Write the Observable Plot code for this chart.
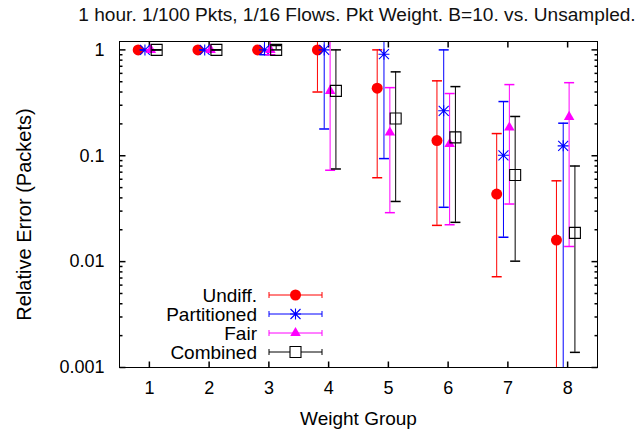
<!DOCTYPE html>
<html><head><meta charset="utf-8">
<script src="https://cdn.jsdelivr.net/npm/d3@7"></script>
<script src="https://cdn.jsdelivr.net/npm/@observablehq/plot@0.6"></script>
<style>body{margin:0;background:#fff} svg{display:block}</style>
</head><body><div id="chart"></div>
<script>
// ---- data ----
const groups = [1, 2, 3, 4, 5, 6, 7, 8];
const seriesNames = ["Undiff.", "Partitioned", "Fair", "Combined"];

const undiffVal = [1, 1, 1, 1, 0.435, 0.139, 0.0435, 0.016];
const undiffLo  = [1, 1, 1, 0.40, 0.062, 0.022, 0.0072, 0.0001];
const undiffHi  = [1, 1, 1, 1.5, 1.0, 0.51, 0.162, 0.058];

const partVal = [1, 1, 1, 1, 0.91, 0.266, 0.101, 0.124];
const partLo  = [1, 1, 0.9, 0.179, 0.094, 0.0326, 0.017, 0.0001];
const partHi  = [1, 1, 1.5, 1.5, 1.5, 1.0, 0.325, 0.203];

const fairVal = [1, 1, 1, 0.41, 0.166, 0.129, 0.185, 0.233];
const fairLo  = [1, 1, 0.9, 0.073, 0.029, 0.0223, 0.035, 0.0139];
const fairHi  = [1, 1, 1.5, 1.5, 0.44, 0.387, 0.47, 0.49];

const combVal = [1, 1, 1, 0.41, 0.225, 0.149, 0.0658, 0.0187];
const combLo  = [1, 1, 1, 0.075, 0.037, 0.0235, 0.0101, 0.00139];
const combHi  = [1, 1, 1.1, 1.0, 0.62, 0.45, 0.235, 0.080];

const yTickValues = [0.001, 0.01, 0.1, 1];
const yTickLabels = ["0.001", "0.01", "0.1", "1"];
const xTickValues = [1, 2, 3, 4, 5, 6, 7, 8];
const titleText = "1 hour. 1/100 Pkts, 1/16 Flows. Pkt Weight. B=10. vs. Unsampled.";
const xLabel = "Weight Group";
const yLabel = "Relative Error (Packets)";

// ---- styles ----
const FONT = "'Liberation Sans', Arial, Helvetica, sans-serif";
const FS = 18;
const hcap = {draw(ctx) { ctx.moveTo(-5, 0); ctx.lineTo(5, 0); }};
const asterisk = {draw(ctx) {
  const r = 5.5, d = 5;
  ctx.moveTo(-r, 0); ctx.lineTo(r, 0); ctx.moveTo(0, -r); ctx.lineTo(0, r);
  ctx.moveTo(-d, -d); ctx.lineTo(d, d); ctx.moveTo(-d, d); ctx.lineTo(d, -d);
}};
const tickSym = (dx, dy) => ({draw(ctx) { ctx.moveTo(0, 0); ctx.lineTo(dx, dy); }});

const series = [
  {name: seriesNames[0], val: undiffVal, lo: undiffLo, hi: undiffHi, color: "#ff0000", off: -0.187, symbol: "circle", r: 5.5, filled: true},
  {name: seriesNames[1], val: partVal, lo: partLo, hi: partHi, color: "#0000ff", off: -0.074, symbol: asterisk, r: 5, filled: false},
  {name: seriesNames[2], val: fairVal, lo: fairLo, hi: fairHi, color: "#ff00ff", off: 0.025, symbol: "triangle", r: 3.9, filled: true},
  {name: seriesNames[3], val: combVal, lo: combLo, hi: combHi, color: "#000000", off: 0.122, symbol: "square", r: 6.2, filled: false}
];

const rows = s => groups.map((g, i) => ({x: g + s.off, v: s.val[i], lo: s.lo[i], hi: s.hi[i]}));

const yMinor = [];
for (const base of [0.001, 0.01, 0.1]) for (let k = 2; k <= 9; k++) yMinor.push(+(base * k).toPrecision(3));

const marks = [];
// ticks (inward, mirrored)
marks.push(Plot.dot(yTickValues, {y: d => d, frameAnchor: "left", symbol: tickSym(6, 0), stroke: "black", fill: "none"}));
marks.push(Plot.dot(yTickValues, {y: d => d, frameAnchor: "right", symbol: tickSym(-6, 0), stroke: "black", fill: "none"}));
marks.push(Plot.dot(yMinor, {y: d => d, frameAnchor: "left", symbol: tickSym(3, 0), stroke: "black", fill: "none"}));
marks.push(Plot.dot(yMinor, {y: d => d, frameAnchor: "right", symbol: tickSym(-3, 0), stroke: "black", fill: "none"}));
marks.push(Plot.dot(xTickValues, {x: d => d, frameAnchor: "bottom", symbol: tickSym(0, -6), stroke: "black", fill: "none"}));
marks.push(Plot.dot(xTickValues, {x: d => d, frameAnchor: "top", symbol: tickSym(0, 6), stroke: "black", fill: "none"}));

for (const s of series) {
  const data = rows(s);
  marks.push(Plot.ruleX(data, {x: "x", y1: "lo", y2: "hi", stroke: s.color, strokeWidth: 1, clip: true}));
  marks.push(Plot.dot(data, {x: "x", y: "lo", symbol: hcap, stroke: s.color, fill: "none", clip: true}));
  marks.push(Plot.dot(data, {x: "x", y: "hi", symbol: hcap, stroke: s.color, fill: "none", clip: true}));
  marks.push(Plot.dot(data, {x: "x", y: "v", symbol: s.symbol, r: s.r,
    fill: s.filled ? s.color : "none", stroke: s.filled ? "none" : s.color, strokeWidth: 1.1, clip: true}));
}

marks.push(Plot.frame({stroke: "black", strokeWidth: 1}));
marks.push(Plot.axisY({ticks: yTickValues, tickSize: 0, tickPadding: 15, label: null,
  tickFormat: d => yTickLabels[yTickValues.indexOf(d)], fontSize: FS}));
marks.push(Plot.axisX({ticks: xTickValues, tickSize: 0, tickPadding: 14, label: null,
  tickFormat: d => String(d), fontSize: FS}));
marks.push(Plot.text([titleText], {text: d => d, frameAnchor: "top", textAnchor: "middle", dy: -34, dx: -1.5, fontSize: 19.1, fill: "#111"}));
marks.push(Plot.text([xLabel], {text: d => d, frameAnchor: "bottom", textAnchor: "middle", dy: 57, fontSize: 19}));
marks.push(Plot.text([yLabel], {text: d => d, frameAnchor: "left", textAnchor: "middle", rotate: -90, dx: -95, dy: 10, fontSize: 20}));

const svg = Plot.plot({
  width: 639, height: 433,
  marginLeft: 119, marginRight: 42, marginTop: 41, marginBottom: 66,
  x: {type: "linear", domain: [0.5, 8.5]},
  y: {type: "log", domain: [0.001, 1.2]},
  style: {fontFamily: FONT, fontSize: FS + "px", color: "black", background: "white"},
  marks
});
document.getElementById("chart").append(svg);

// ---- legend ----
const lg = d3.select(svg).append("g").attr("font-family", FONT).attr("font-size", 19);
const lx0 = 269, lx1 = 322, ltx = 257, ly0 = 295, lstep = 19;
series.forEach((s, i) => {
  const y = ly0 + i * lstep;
  lg.append("text").attr("x", ltx).attr("y", y).attr("dy", "0.35em").attr("text-anchor", "end").attr("fill", "black").text(s.name);
  lg.append("line").attr("x1", lx0).attr("x2", lx1).attr("y1", y).attr("y2", y).attr("stroke", s.color);
  lg.append("line").attr("x1", lx0).attr("x2", lx0).attr("y1", y - 3).attr("y2", y + 3).attr("stroke", s.color);
  lg.append("line").attr("x1", lx1).attr("x2", lx1).attr("y1", y - 3).attr("y2", y + 3).attr("stroke", s.color);
  const typ = typeof s.symbol === "string" ? {circle: d3.symbolCircle, triangle: d3.symbolTriangle, square: d3.symbolSquare}[s.symbol] : s.symbol;
  lg.append("path").attr("transform", `translate(${(lx0 + lx1) / 2},${y})`)
    .attr("d", d3.symbol(typ, Math.PI * s.r * s.r)())
    .attr("fill", s.filled ? s.color : "white").attr("stroke", s.filled ? "none" : s.color).attr("stroke-width", 1.1);
});
</script>
</body></html>
